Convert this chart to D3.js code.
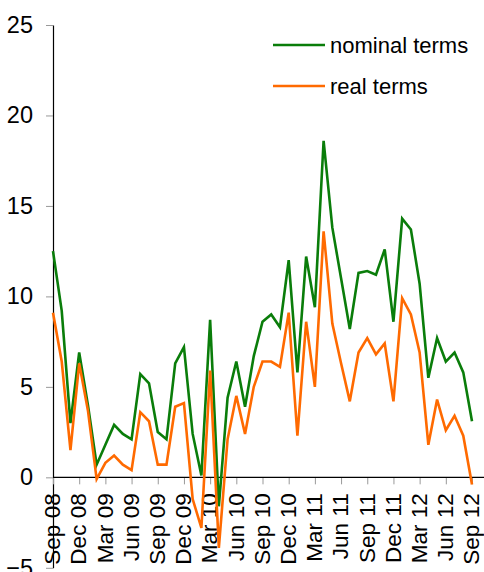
<!DOCTYPE html>
<html>
<head>
<meta charset="utf-8">
<script src="https://cdn.jsdelivr.net/npm/d3@7"></script>
<style>
  body { margin: 0; background: #fff; }
  svg { display: block; font-family: "Liberation Sans", Arial, sans-serif; }
</style>
</head>
<body>
<div id="chart"></div>
<script>
// monthly, Sep 08 .. Sep 12
var months = ["Sep 08","Oct 08","Nov 08","Dec 08","Jan 09","Feb 09","Mar 09","Apr 09","May 09","Jun 09",
  "Jul 09","Aug 09","Sep 09","Oct 09","Nov 09","Dec 09","Jan 10","Feb 10","Mar 10","Apr 10",
  "May 10","Jun 10","Jul 10","Aug 10","Sep 10","Oct 10","Nov 10","Dec 10","Jan 11","Feb 11",
  "Mar 11","Apr 11","May 11","Jun 11","Jul 11","Aug 11","Sep 11","Oct 11","Nov 11","Dec 11",
  "Jan 12","Feb 12","Mar 12","Apr 12","May 12","Jun 12","Jul 12","Aug 12","Sep 12"];

var nominal = [12.5, 9.2, 3.0, 6.9, 4.0, 0.7, 1.8, 2.9, 2.4, 2.1,
  5.7, 5.2, 2.5, 2.1, 6.3, 7.2, 2.4, 0.1, 8.7, -1.6,
  4.4, 6.4, 3.9, 6.7, 8.6, 9.0, 8.3, 12.0, 5.8, 12.2,
  9.4, 18.6, 13.8, 11.0, 8.2, 11.3, 11.4, 11.2, 12.6, 8.6,
  14.3, 13.7, 10.7, 5.5, 7.7, 6.4, 6.9, 5.8, 3.1];

var real = [9.1, 6.4, 1.5, 6.3, 3.7, -0.1, 0.8, 1.2, 0.7, 0.4,
  3.6, 3.1, 0.7, 0.7, 3.9, 4.1, -1.2, -2.8, 5.9, -3.9,
  2.1, 4.5, 2.4, 5.0, 6.4, 6.4, 6.1, 9.1, 2.3, 8.6,
  5.0, 13.6, 8.5, 6.3, 4.2, 6.9, 7.7, 6.8, 7.4, 4.2,
  9.9, 9.0, 6.9, 1.8, 4.3, 2.6, 3.4, 2.3, -0.4];

var yTicks = [-5, 0, 5, 10, 15, 20, 25];
var seriesNames = ["nominal terms", "real terms"];
var seriesColors = ["#0a7d0a", "#ff6a00"];

var width = 484, height = 572;

var svg = d3.select("#chart").append("svg")
    .attr("width", width)
    .attr("height", height);

var x = d3.scalePoint()
    .domain(months)
    .range([53, 472]);

var y = d3.scaleLinear()
    .domain([-5, 25])
    .range([567.8, 25]);

// y axis
var yAxis = svg.append("g")
    .attr("transform", "translate(53,0)")
    .call(d3.axisLeft(y).tickValues(yTicks).tickSize(7).tickSizeOuter(0).tickPadding(13));
yAxis.select(".domain").attr("stroke", "#000").attr("stroke-width", 1.2);
yAxis.selectAll(".tick line").attr("stroke", "#999");
yAxis.selectAll(".tick text")
    .attr("font-size", 23.5)
    .attr("fill", "#000")
    .attr("font-family", "Liberation Sans, Arial, sans-serif");

// x axis at zero
var xAxis = svg.append("g")
    .attr("transform", "translate(0," + y(0) + ")")
    .call(d3.axisBottom(x)
      .tickValues(months.filter(function (d, i) { return i % 3 === 0; }))
      .tickSize(7).tickSizeOuter(0));
xAxis.select(".domain").remove();
xAxis.append("line")
    .attr("x1", 53).attr("x2", width)
    .attr("stroke", "#000").attr("stroke-width", 1.2);
xAxis.selectAll(".tick line").attr("stroke", "#999");
xAxis.selectAll(".tick text")
    .attr("font-size", 22.5)
    .attr("fill", "#000")
    .attr("font-family", "Liberation Sans, Arial, sans-serif")
    .attr("text-anchor", "end")
    .attr("transform", "rotate(-90)")
    .attr("x", -16)
    .attr("y", 0)
    .attr("dy", "0.3em");

// lines
var line = d3.line()
    .x(function (d, i) { return x(months[i]); })
    .y(function (d) { return y(d); });

[nominal, real].forEach(function (s, k) {
  svg.append("path")
      .datum(s)
      .attr("fill", "none")
      .attr("stroke", seriesColors[k])
      .attr("stroke-width", 2.6)
      .attr("stroke-linejoin", "miter")
      .attr("d", line);
});

// legend
var legend = svg.append("g").attr("transform", "translate(273,45)");
seriesNames.forEach(function (name, k) {
  var g = legend.append("g").attr("transform", "translate(0," + (k * 41) + ")");
  g.append("line")
      .attr("x1", 0).attr("x2", 52)
      .attr("stroke", seriesColors[k])
      .attr("stroke-width", 2.6);
  g.append("text")
      .attr("x", 57)
      .attr("dy", "0.35em")
      .attr("font-size", 22)
      .attr("fill", "#000")
      .text(name);
});
</script>
</body>
</html>
